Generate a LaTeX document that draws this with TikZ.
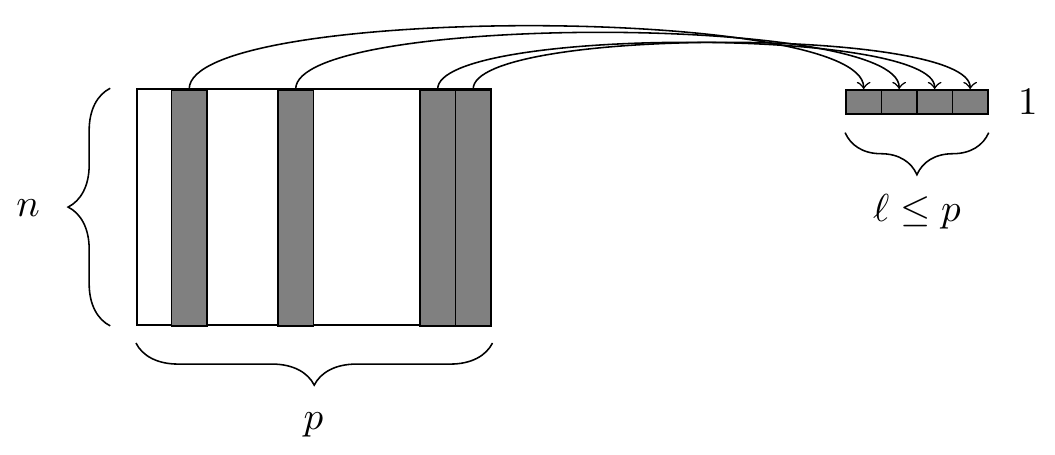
\documentclass[tikz,border=0pt]{standalone}
\usetikzlibrary{decorations.pathreplacing,
	positioning}

\begin{document}
\begin{tikzpicture}[x=0.32cm, y=0.32cm]
            \tikzset{col/.style={draw, fill=gray, inner sep=0pt, minimum width=0.32cm, minimum height=2.128cm},
                     cell/.style={draw, fill=gray, inner sep=0pt, minimum width=0.32cm, minimum height=0.2176cm},
                     brc/.style={decorate, decoration={brace, amplitude=10.8pt}}}
            \useasboundingbox (-3.83, -3.63) rectangle (25.89, 9.18);

            % the n x p matrix and its chosen columns
            \node[draw, inner sep=0pt, minimum width=3.2cm, minimum height=2.128cm, anchor=south west] (X) at (0, 0) {};
            \foreach \c [count=\k] in {1, 4, 8, 9}
                \node[col] (c\k) at (\c+0.5, 3.325) {};

            % the 1 x l row
            \foreach \k in {1,...,4}
                \node[cell] (s\k) at (19.5+\k, 6.31) {};
            \node[right=4pt of s4.east, inner sep=3.33pt] (one) {$1$};

            \foreach \k in {1,...,4}
                \draw[->] (c\k.north) to[out=90, in=90, looseness=0.32] (s\k.north);

            % braces
            \draw[brc] ([xshift=-6.6pt]X.south west) -- ([xshift=-6.6pt]X.north west);
            \draw[brc] ([yshift=-4.4pt]X.south east) -- ([yshift=-4.4pt]X.south west);
            \draw[brc] ([yshift=-4.6pt]s4.south east) -- ([yshift=-4.6pt]s1.south west);
            \node (n) at (-3.04, 3.33) {$n$};
            \node (p) at (5, -2.79) {$p$};
            \node (l) at (22, 3.21) {$\ell \leq p$};
        \end{tikzpicture}
\end{document}
